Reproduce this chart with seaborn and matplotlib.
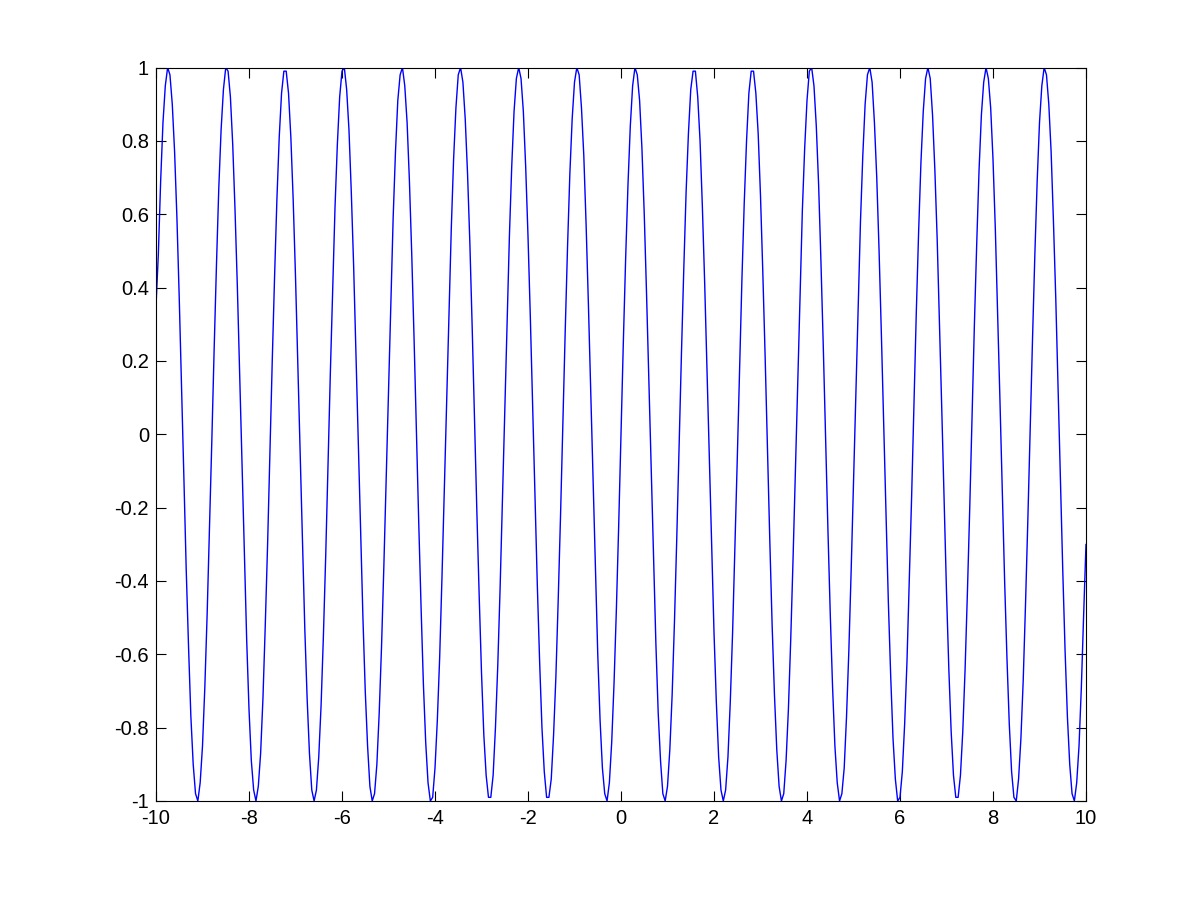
import numpy as np
import matplotlib
matplotlib.use("Agg")
import matplotlib.pyplot as plt
import seaborn as sns

# curve values at x = 0.00, 0.05, ..., 10.00
# (the left half, x < 0, is the mirror image with the sign flipped)
y_right = [
    0.00, 0.25, 0.48, 0.68, 0.84, 0.95, 1.00, 0.98, 0.91, 0.78,
    0.60, 0.38, 0.14, -0.11, -0.35, -0.57, -0.76, -0.89, -0.98, -1.00,
    -0.96, -0.86, -0.71, -0.51, -0.28, -0.03, 0.22, 0.45, 0.66, 0.82,
    0.94, 0.99, 0.99, 0.92, 0.80, 0.62, 0.41, 0.17, -0.08, -0.32,
    -0.54, -0.73, -0.88, -0.97, -1.00, -0.97, -0.88, -0.73, -0.54, -0.31,
    -0.07, 0.18, 0.42, 0.63, 0.80, 0.93, 0.99, 0.99, 0.93, 0.82,
    0.65, 0.44, 0.21, -0.04, -0.29, -0.52, -0.71, -0.86, -0.96, -1.00,
    -0.98, -0.89, -0.75, -0.56, -0.34, -0.10, 0.15, 0.39, 0.61, 0.78,
    0.91, 0.99, 1.00, 0.95, 0.84, 0.68, 0.47, 0.24, -0.01, -0.26,
    -0.49, -0.69, -0.85, -0.95, -1.00, -0.98, -0.91, -0.77, -0.59, -0.37,
    -0.13, 0.12, 0.36, 0.58, 0.76, 0.90, 0.98, 1.00, 0.96, 0.85,
    0.70, 0.50, 0.27, 0.02, -0.22, -0.46, -0.66, -0.83, -0.94, -1.00,
    -0.99, -0.92, -0.79, -0.62, -0.40, -0.17, 0.08, 0.33, 0.55, 0.74,
    0.88, 0.97, 1.00, 0.97, 0.87, 0.72, 0.53, 0.30, 0.06, -0.19,
    -0.43, -0.64, -0.81, -0.93, -0.99, -0.99, -0.93, -0.81, -0.64, -0.43,
    -0.20, 0.05, 0.30, 0.52, 0.72, 0.87, 0.96, 1.00, 0.97, 0.89,
    0.75, 0.56, 0.33, 0.09, -0.16, -0.40, -0.61, -0.79, -0.92, -0.99,
    -1.00, -0.94, -0.83, -0.67, -0.46, -0.23, 0.02, 0.26, 0.49, 0.69,
    0.85, 0.95, 1.00, 0.98, 0.90, 0.77, 0.58, 0.37, 0.12, -0.13,
    -0.37, -0.59, -0.77, -0.90, -0.98, -1.00, -0.95, -0.85, -0.69, -0.49,
    -0.30,
]
y_values = [-v for v in y_right[:0:-1]] + y_right
y_values[0] = 0.35
x_values = np.linspace(-10, 10, len(y_values))

x_ticks = [-10, -8, -6, -4, -2, 0, 2, 4, 6, 8, 10]
y_ticks = [-1, -0.8, -0.6, -0.4, -0.2, 0, 0.2, 0.4, 0.6, 0.8, 1]

sns.set_style("ticks")
plt.rcParams['font.family'] = ['Liberation Sans', 'DejaVu Sans']
plt.rcParams['axes.unicode_minus'] = False

fig = plt.figure(figsize=(12, 9), dpi=100)
ax = fig.add_axes([0.13, 0.11, 0.775, 0.815])
sns.lineplot(x=x_values, y=y_values, color='#0000ff', linewidth=1.0, ax=ax)

ax.set_xlim(-10, 10)
ax.set_ylim(-1, 1)
ax.set_xticks(x_ticks)
ax.set_yticks(y_ticks)
ax.set_xticklabels([f"{v:g}" for v in x_ticks])
ax.set_yticklabels([f"{v:g}" for v in y_ticks])
ax.tick_params(direction='in', length=7, width=0.8, color='black',
               labelcolor='black', labelsize=14.5, top=True, right=True)
ax.tick_params(axis='x', pad=5.5)
ax.tick_params(axis='y', pad=5)
for s in ax.spines.values():
    s.set_visible(True)
    s.set_color('black')
    s.set_linewidth(0.8)

fig.savefig("out.png", dpi=100, facecolor='white')
